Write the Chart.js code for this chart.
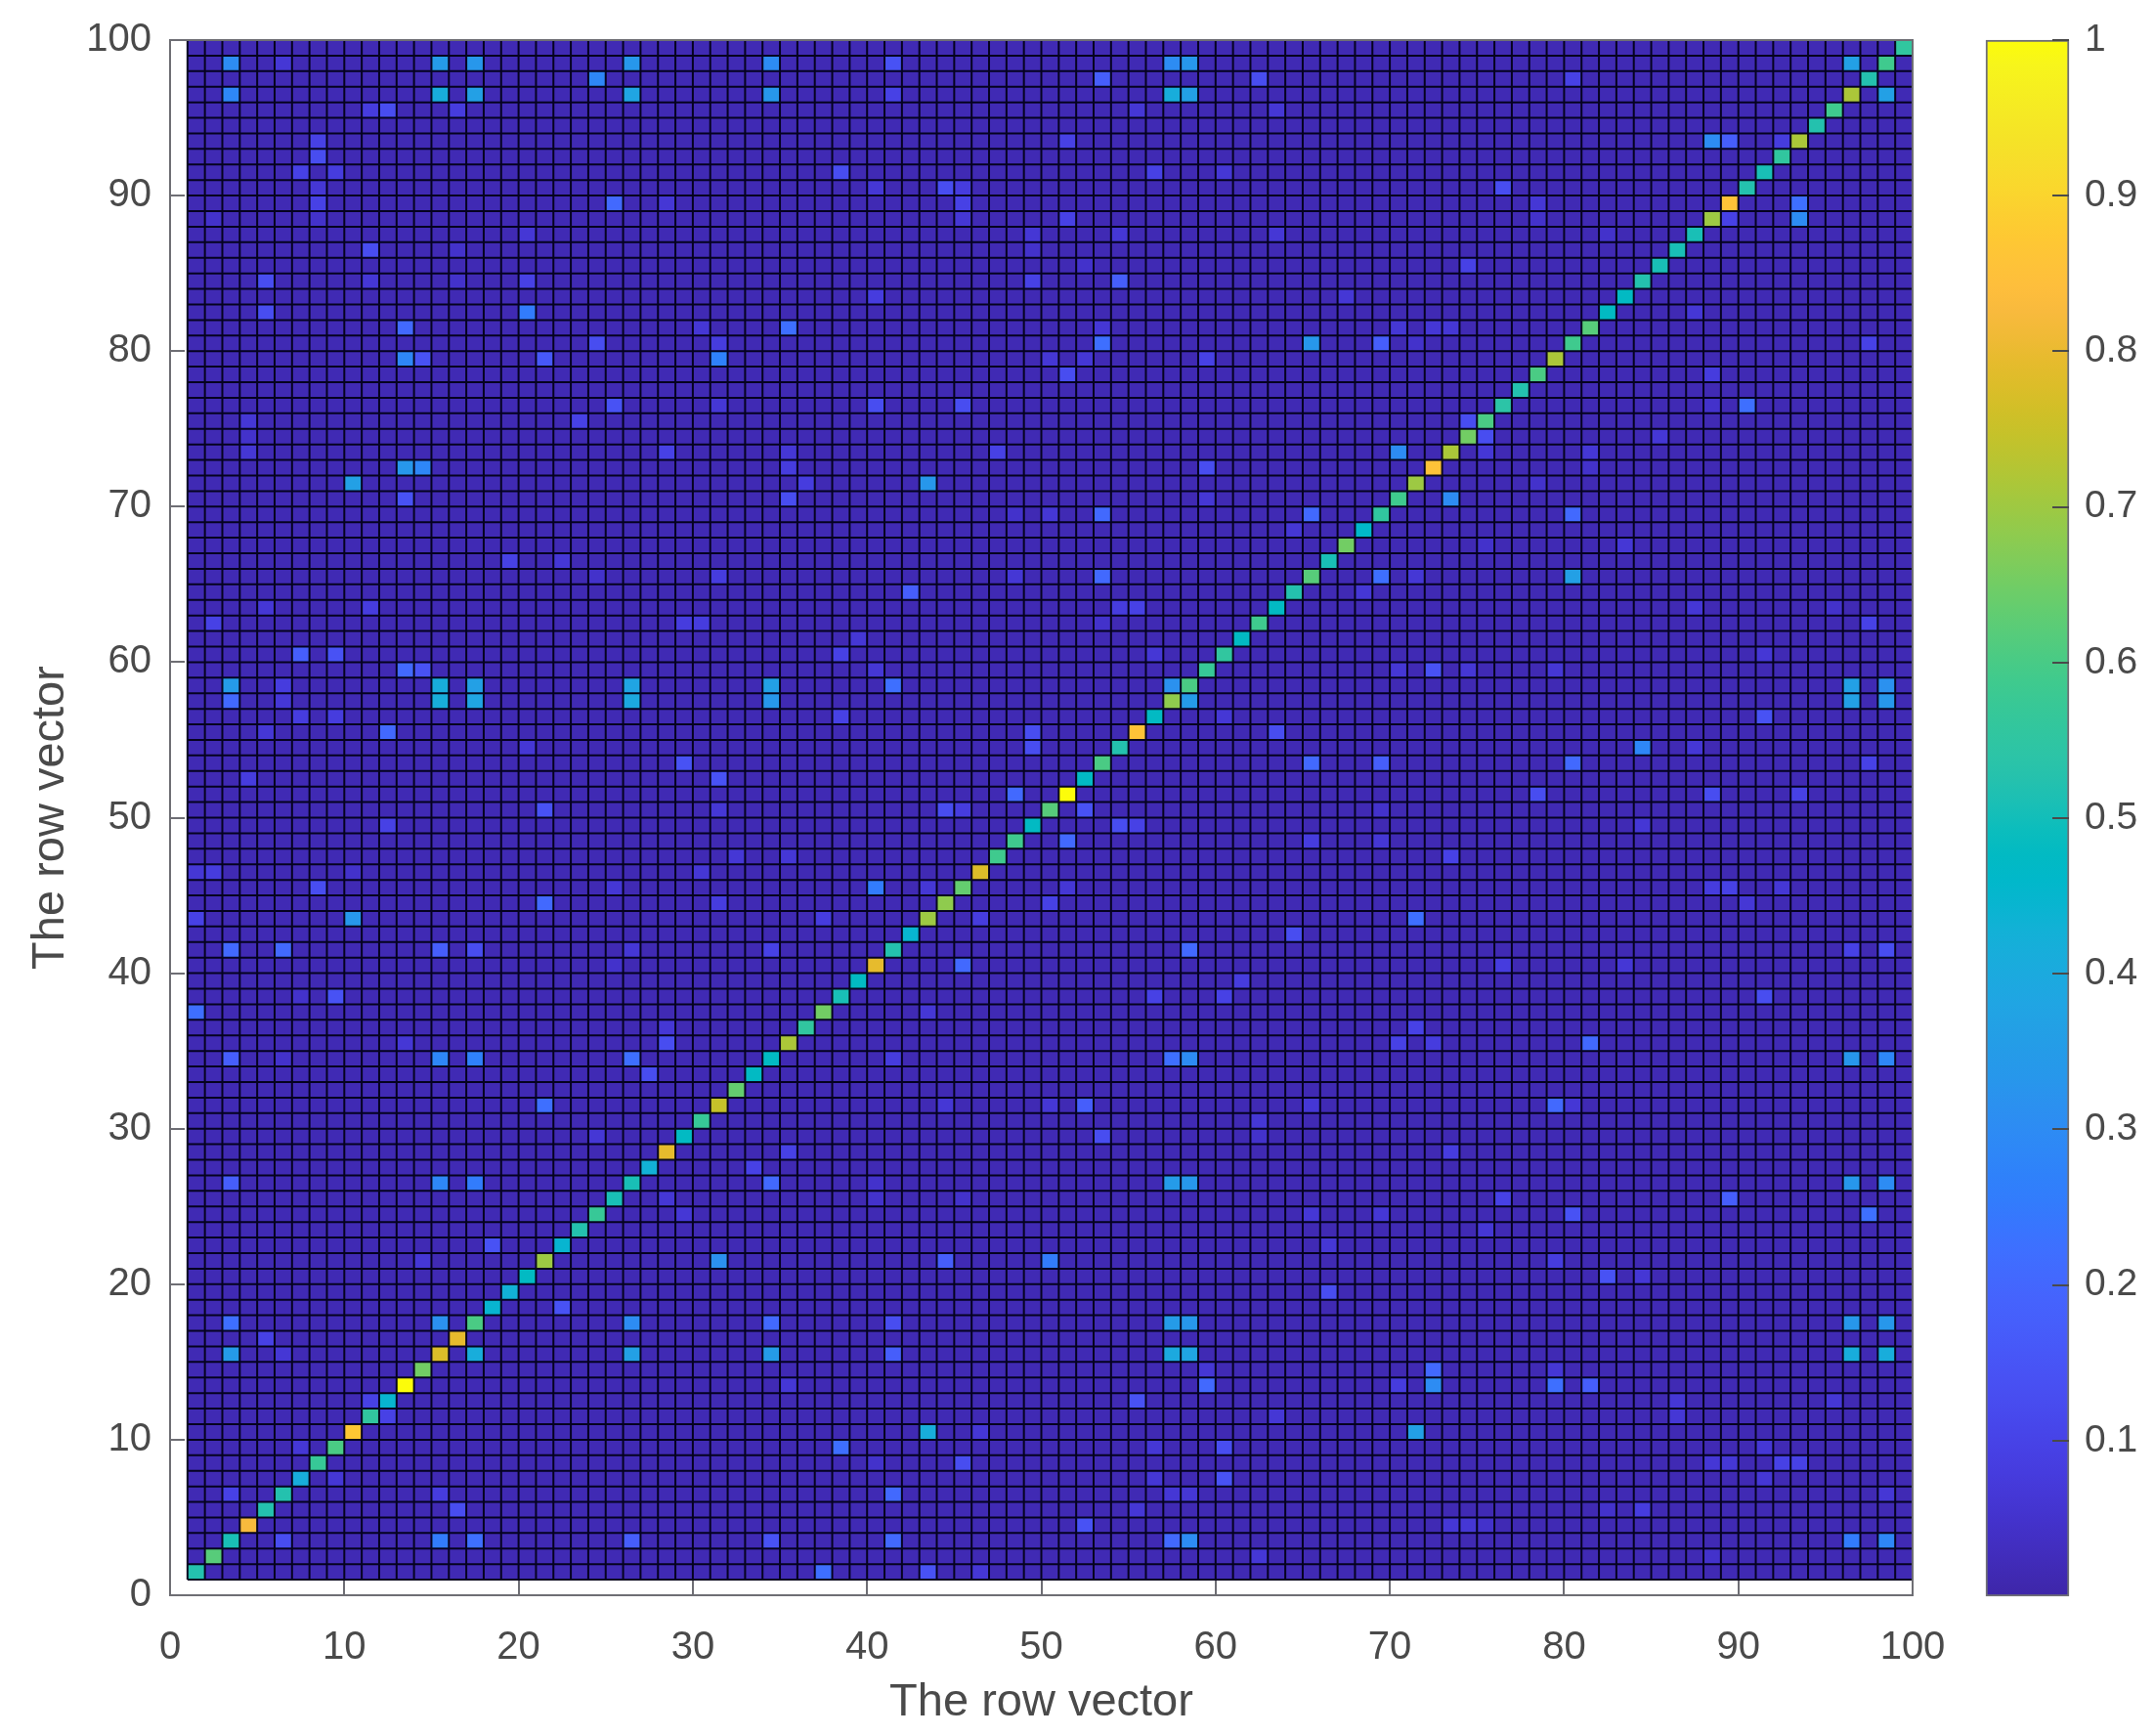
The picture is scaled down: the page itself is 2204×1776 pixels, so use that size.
<!DOCTYPE html>
<html>
<head>
<meta charset="utf-8">
<title>The row vector</title>
<script src="https://cdn.jsdelivr.net/npm/chart.js@4/dist/chart.umd.js"></script>
<style>
    html, body { margin: 0; padding: 0; background: #fff; }
    #wrap { position: relative; width: 2204px; height: 1776px; overflow: hidden; }
    canvas { position: absolute; top: 0; filter: blur(0.6px); }
    #matrixChart { left: 0; }
    #colorbarChart { left: 2022px; }
</style>
</head>
<body>
<div id="wrap">
    <canvas id="matrixChart" width="2204" height="1776"></canvas>
    <canvas id="colorbarChart" width="182" height="1776"></canvas>
</div>
<script>
// Axis text and ticks
const axisTitle = 'The row vector';
const axisTicks = [0, 10, 20, 30, 40, 50, 60, 70, 80, 90, 100];
const colorbarTicks = [0.1, 0.2, 0.3, 0.4, 0.5, 0.6, 0.7, 0.8, 0.9, 1];

// Columns and rows of the matrix (edges of the cells)
const gridEdges = [];
for (let i = 1; i <= 100; i++) gridEdges.push(i);

// Value of the cells that are not listed below
const backgroundValue = 0.012;

// Main diagonal, cell 1 to cell 99
const diagonalValues = [
    0.52, 0.62, 0.50, 0.82, 0.52, 0.53, 0.42, 0.57, 0.60, 0.87,
    0.55, 0.45, 1.00, 0.65, 0.77, 0.80, 0.60, 0.45, 0.43, 0.47,
    0.70, 0.45, 0.52, 0.57, 0.50, 0.50, 0.43, 0.80, 0.48, 0.57,
    0.74, 0.63, 0.47, 0.48, 0.72, 0.56, 0.65, 0.50, 0.48, 0.80,
    0.52, 0.45, 0.70, 0.68, 0.63, 0.78, 0.58, 0.58, 0.47, 0.62,
    1.00, 0.47, 0.60, 0.52, 0.85, 0.48, 0.68, 0.60, 0.57, 0.56,
    0.48, 0.58, 0.47, 0.53, 0.62, 0.50, 0.65, 0.46, 0.55, 0.58,
    0.70, 0.86, 0.72, 0.65, 0.60, 0.54, 0.52, 0.60, 0.72, 0.58,
    0.62, 0.47, 0.48, 0.53, 0.50, 0.50, 0.50, 0.70, 0.85, 0.52,
    0.50, 0.55, 0.72, 0.53, 0.58, 0.72, 0.52, 0.58, 0.55
];

// Off diagonal cells: [column, row, value]
const upperLeftCells = [
    [3,98,.3],[6,98,.06],[15,98,.35],[17,98,.33],[26,98,.33],[34,98,.3],[41,98,.15],
    [24,97,.28],
    [3,96,.28],[15,96,.42],[17,96,.37],[26,96,.38],[34,96,.33],[41,96,.1],
    [11,95,.08],[12,95,.12],[16,95,.08],
    [8,93,.1],[8,92,.13],[7,91,.09],[9,91,.08],[38,91,.12],
    [8,90,.06],[40,90,.06],[44,90,.12],[45,90,.08],
    [8,89,.1],[25,89,.2],[28,89,.06],[45,89,.1],
    [2,88,.05],[8,88,.05],[45,88,.07],
    [20,87,.06],[49,87,.07],[11,86,.12],[16,86,.05],[49,86,.05],
    [5,84,.12],[11,84,.06],[16,84,.05],[20,84,.1],[49,84,.1],
    [40,83,.08],[5,82,.12],[20,82,.25],
    [13,81,.2],[30,81,.06],[35,81,.22],[24,80,.13],[31,80,.08],
    [13,79,.28],[14,79,.15],[21,79,.16],[31,79,.27],
    [25,76,.14],[31,76,.07],[40,76,.12],[45,76,.12],
    [4,75,.06],[23,75,.1],[4,74,.05],
    [4,73,.06],[28,73,.1],[35,73,.06],[47,73,.1],
    [13,72,.33],[14,72,.28],[35,72,.08],
    [10,71,.37],[36,71,.08],[43,71,.33],
    [13,70,.15],[35,70,.12],[48,69,.05],
    [19,66,.1],[22,66,.06],[24,65,.05],[31,65,.08],[48,65,.06],
    [42,64,.18],[5,63,.07],[11,63,.08],
    [2,62,.1],[29,62,.08],[30,62,.08],[39,61,.06],
    [7,60,.17],[9,60,.15],[38,60,.1],
    [13,59,.2],[14,59,.15],[40,59,.06],
    [3,58,.35],[6,58,.08],[15,58,.42],[17,58,.36],[26,58,.38],[34,58,.37],[41,58,.22],
    [3,57,.2],[6,57,.06],[15,57,.42],[17,57,.38],[26,57,.4],[34,57,.33],
    [7,56,.08],[9,56,.08],[38,56,.1],
    [5,55,.07],[12,55,.2],[49,55,.13],
    [20,54,.07],[49,54,.12],[29,53,.15],
    [4,52,.08],[31,52,.15],[48,51,.2],
    [21,50,.14],[31,50,.07],[44,50,.12],[45,50,.08]
];
const upperRightCells = [
    [57,98,.3],[58,98,.33],[96,98,.37],
    [53,97,.18],[62,97,.13],[80,97,.1],
    [57,96,.42],[58,96,.37],[98,96,.37],
    [55,95,.06],[63,95,.07],
    [51,93,.1],[88,93,.3],[89,93,.18],[92,93,.08],
    [56,91,.1],[60,91,.06],[76,90,.12],
    [78,89,.06],[93,89,.22],
    [51,88,.09],[78,88,.05],[89,88,.1],[93,88,.3],
    [54,87,.06],[63,87,.07],[82,87,.05],
    [52,85,.05],[74,85,.1],[54,84,.18],[67,83,.06],[87,82,.07],
    [53,81,.06],[70,81,.06],[72,81,.07],[73,81,.07],
    [53,80,.22],[65,80,.33],[69,80,.17],[71,80,.05],[97,80,.1],
    [50,79,.07],[52,79,.06],[59,79,.09],
    [51,78,.12],[88,78,.08],[88,76,.05],[90,76,.22],
    [74,75,.12],[75,74,.12],[85,74,.07],
    [70,73,.3],[75,73,.06],[81,73,.07],
    [59,72,.12],[81,72,.05],[78,71,.05],
    [59,70,.06],[73,70,.3],
    [50,69,.06],[53,69,.2],[65,69,.2],[80,69,.2],
    [64,68,.06],[75,67,.05],[83,67,.06],
    [53,65,.2],[69,65,.22],[71,65,.06],[80,65,.36],
    [68,64,.07],[54,63,.08],[55,63,.1],[87,63,.06],[95,63,.05],
    [53,62,.05],[97,62,.1],[56,60,.07],[91,60,.07],
    [70,59,.07],[72,59,.14],[74,59,.06],[79,59,.06],
    [57,58,.32],[96,58,.37],[98,58,.32],
    [58,57,.35],[96,57,.36],[98,57,.33],
    [60,56,.06],[91,56,.15],[63,55,.12],
    [84,54,.28],[87,54,.06],
    [65,53,.2],[69,53,.17],[80,53,.2],[97,53,.1],
    [78,51,.12],[88,51,.12],[93,51,.1],
    [52,50,.14],[69,50,.05]
];
const lowerLeftCells = [
    [12,49,.1],[32,47,.06],[35,47,.06],
    [1,46,.06],[2,46,.08],[10,46,.05],[30,46,.07],
    [8,45,.12],[25,45,.06],[40,45,.25],[43,45,.07],
    [21,44,.2],[31,44,.08],
    [1,43,.1],[10,43,.33],[37,43,.08],[46,43,.08],
    [3,41,.2],[6,41,.2],[15,41,.17],[17,41,.13],[26,41,.07],[34,41,.1],
    [25,40,.05],[45,40,.2],[7,38,.05],[9,38,.15],
    [1,37,.22],[43,37,.07],[28,36,.06],[13,35,.07],[28,35,.12],
    [3,34,.18],[6,34,.05],[15,34,.28],[17,34,.27],[26,34,.22],[41,34,.08],
    [27,33,.12],[21,31,.22],[44,31,.06],[24,29,.06],
    [35,28,.1],[33,27,.1],
    [3,26,.18],[15,26,.28],[17,26,.26],[34,26,.2],[40,26,.05],
    [28,25,.06],[40,25,.05],[45,25,.05],[29,24,.07],
    [18,22,.15],[14,21,.07],[31,21,.32],[44,21,.18],[22,18,.15],
    [3,17,.22],[15,17,.32],[26,17,.3],[34,17,.2],[41,17,.12],
    [5,16,.1],
    [3,15,.35],[6,15,.07],[17,15,.42],[26,15,.37],[34,15,.35],[41,15,.18],
    [35,13,.06],[11,12,.1],[12,11,.1],
    [43,10,.42],[46,10,.07],[7,9,.06],[38,9,.22],
    [40,8,.05],[45,8,.12],[9,7,.07],
    [3,6,.1],[15,6,.08],[41,6,.2],[16,5,.12],
    [6,3,.13],[15,3,.25],[17,3,.22],[26,3,.17],[34,3,.14],[41,3,.2],
    [37,1,.22],[43,1,.14],[46,1,.07]
];
const lowerRightCells = [
    [54,49,.12],[55,49,.1],[84,49,.07],
    [51,48,.2],[65,48,.08],[69,48,.06],[73,47,.1],
    [51,45,.06],[88,45,.08],[89,45,.1],[92,45,.06],
    [50,44,.1],[90,44,.07],[71,43,.22],[64,42,.13],
    [58,41,.2],[96,41,.1],[98,41,.12],
    [76,40,.08],[83,40,.06],[61,39,.08],
    [56,38,.1],[60,38,.09],[91,38,.13],
    [71,36,.1],[70,35,.1],[72,35,.08],[81,35,.2],
    [57,34,.22],[58,34,.3],[96,34,.33],[98,34,.28],
    [50,31,.06],[52,31,.18],[65,31,.06],[79,31,.2],[80,31,.07],
    [62,30,.07],[53,29,.13],[62,29,.05],[73,28,.08],
    [57,26,.35],[58,26,.33],[96,26,.33],[98,26,.3],
    [76,25,.1],[89,25,.18],
    [65,24,.06],[69,24,.06],[80,24,.14],[97,24,.22],
    [75,23,.07],[66,22,.06],[50,21,.25],[79,21,.08],
    [82,20,.14],[84,20,.07],[66,19,.12],
    [57,17,.35],[58,17,.33],[96,17,.34],[98,17,.33],
    [57,15,.4],[58,15,.38],[96,15,.42],[98,15,.42],
    [59,14,.07],[72,14,.2],[79,14,.07],
    [59,13,.2],[70,13,.08],[72,13,.3],[79,13,.23],[81,13,.17],
    [55,12,.14],[86,12,.06],[95,12,.07],[63,11,.06],[86,11,.06],
    [71,10,.37],[56,9,.06],[60,9,.12],[91,9,.07],
    [88,8,.07],[89,8,.07],[92,8,.1],[93,8,.1],
    [56,7,.06],[60,7,.15],[91,7,.06],
    [57,6,.06],[58,6,.06],[98,6,.06],
    [55,5,.06],[82,5,.05],[84,5,.08],
    [52,4,.14],[73,4,.06],[74,4,.06],[75,4,.05],
    [57,3,.2],[58,3,.3],[96,3,.25],[98,3,.28],
    [62,2,.07],[88,2,.05]
];

// parula colormap, 64 steps
const parula = [
    [.2422,.1504,.6603],[.2504,.1650,.7076],[.2578,.1818,.7511],[.2647,.1978,.7952],
    [.2706,.2147,.8364],[.2751,.2342,.8710],[.2783,.2559,.8991],[.2803,.2782,.9221],
    [.2813,.3006,.9414],[.2810,.3228,.9579],[.2795,.3447,.9717],[.2760,.3667,.9829],
    [.2699,.3892,.9906],[.2602,.4123,.9952],[.2440,.4358,.9988],[.2206,.4603,.9973],
    [.1963,.4847,.9892],[.1834,.5074,.9798],[.1786,.5289,.9682],[.1764,.5499,.9520],
    [.1687,.5703,.9359],[.1540,.5902,.9218],[.1460,.6091,.9079],[.1380,.6276,.8973],
    [.1248,.6459,.8883],[.1113,.6635,.8763],[.0952,.6798,.8598],[.0689,.6948,.8394],
    [.0297,.7082,.8163],[.0036,.7203,.7917],[.0067,.7312,.7660],[.0433,.7411,.7394],
    [.0964,.7500,.7120],[.1408,.7584,.6842],[.1717,.7670,.6554],[.1938,.7758,.6251],
    [.2161,.7843,.5923],[.2470,.7918,.5567],[.2906,.7973,.5188],[.3406,.8008,.4789],
    [.3909,.8029,.4354],[.4456,.8024,.3909],[.5044,.7993,.3480],[.5616,.7942,.3045],
    [.6174,.7876,.2612],[.6720,.7793,.2227],[.7242,.7698,.1910],[.7738,.7598,.1646],
    [.8203,.7498,.1535],[.8634,.7406,.1596],[.9035,.7330,.1774],[.9393,.7288,.2100],
    [.9728,.7298,.2394],[.9956,.7434,.2371],[.9970,.7659,.2199],[.9952,.7861,.1996],
    [.9892,.8134,.1885],[.9786,.8422,.1780],[.9676,.8666,.1697],[.9610,.8890,.1537],
    [.9597,.9135,.1423],[.9628,.9373,.1265],[.9691,.9606,.1064],[.9900,.9900,.0400]
];

function parulaColor(v) {
    const idx = Math.max(0, Math.min(63, Math.round(v * 63)));
    const c = parula[idx];
    return 'rgb(' + Math.round(c[0] * 255) + ',' + Math.round(c[1] * 255) + ',' + Math.round(c[2] * 255) + ')';
}

// Build the cell table
const listed = new Map();
[upperLeftCells, upperRightCells, lowerLeftCells, lowerRightCells].forEach(function (list) {
    list.forEach(function (c) { listed.set(c[0] + '_' + c[1], c[2]); });
});
diagonalValues.forEach(function (v, i) { listed.set((i + 1) + '_' + (i + 1), v); });

const cells = [];
for (let r = 1; r <= 99; r++) {
    for (let c = 1; c <= 99; c++) {
        const key = c + '_' + r;
        cells.push({ x: c + 0.5, y: r + 0.5, v: listed.has(key) ? listed.get(key) : backgroundValue });
    }
}

// Black lines of the cells, null breaks the line
const gridLines = [];
gridEdges.forEach(function (e) {
    gridLines.push({ x: e, y: 1 }, { x: e, y: 100 }, { x: e, y: null });
    gridLines.push({ x: 1, y: e }, { x: 100, y: e }, { x: 1, y: null });
});

// Cells are drawn as image points, one small image for each colour
const cellImages = {};
function cellImage(chart, v) {
    const color = parulaColor(v);
    if (!cellImages[color]) {
        const w = Math.ceil(chart.scales.x.getPixelForValue(1) - chart.scales.x.getPixelForValue(0));
        const h = Math.ceil(chart.scales.y.getPixelForValue(0) - chart.scales.y.getPixelForValue(1));
        if (!(w > 1 && h > 1)) return 'rect'; // scales not laid out yet
        const img = document.createElement('canvas');
        img.width = w;
        img.height = h;
        const g = img.getContext('2d');
        g.fillStyle = color;
        g.fillRect(0, 0, w, h);
        cellImages[color] = img;
    }
    return cellImages[color];
}

const textColor = '#4a4a4a';
const boxColor = '#6e6e74';
const fontFamily = '"Liberation Sans", Arial, sans-serif';

function pickTicks(list) {
    return function (scale) {
        scale.ticks = list.map(function (v) { return { value: v }; });
    };
}

// Fixed axis size, and no extra room for labels that stick out at the ends
function fixSize(prop, size) {
    return function (scale) {
        scale[prop] = size;
        scale.paddingTop = 0;
        scale.paddingBottom = 0;
        scale.paddingLeft = 0;
        scale.paddingRight = 0;
    };
}

new Chart(document.getElementById('matrixChart').getContext('2d'), {
    data: {
        datasets: [
            {
                type: 'scatter',
                data: gridLines,
                showLine: true,
                spanGaps: false,
                borderColor: 'rgba(2,0,24,0.95)',
                borderWidth: 2,
                pointRadius: 0,
                order: 1
            },
            {
                type: 'scatter',
                data: cells,
                pointRadius: 1,
                pointBorderWidth: 0,
                pointStyle: function (ctx) {
                    if (!ctx.raw) return 'rect';
                    return cellImage(ctx.chart, ctx.raw.v);
                },
                order: 2
            }
        ]
    },
    options: {
        responsive: false,
        animation: false,
        events: [],
        devicePixelRatio: 1,
        plugins: { legend: { display: false }, tooltip: { enabled: false } },
        scales: {
            x: {
                type: 'linear', position: 'bottom', min: 0, max: 100,
                afterBuildTicks: pickTicks(axisTicks),
                afterFit: fixSize('height', 144),
                grid: { drawOnChartArea: false, tickLength: -15, color: boxColor, lineWidth: 2, z: 1 },
                border: { color: boxColor, width: 2, z: 1 },
                ticks: { color: textColor, font: { family: fontFamily, size: 40 }, padding: 45, maxRotation: 0, autoSkip: false },
                title: { display: true, text: axisTitle, color: textColor, font: { family: fontFamily, size: 47 }, padding: { top: 0, bottom: 6 } }
            },
            y: {
                type: 'linear', position: 'left', min: 0, max: 100,
                afterBuildTicks: pickTicks(axisTicks),
                afterFit: fixSize('width', 174),
                grid: { drawOnChartArea: false, tickLength: -15, color: boxColor, lineWidth: 2, z: 1 },
                border: { color: boxColor, width: 2, z: 1 },
                ticks: { color: textColor, font: { family: fontFamily, size: 40 }, padding: 34, autoSkip: false },
                title: { display: true, text: axisTitle, color: textColor, font: { family: fontFamily, size: 47 }, padding: { top: 24, bottom: 0 } }
            },
            xTop: {
                type: 'linear', position: 'top', min: 0, max: 100,
                afterFit: fixSize('height', 41),
                grid: { drawOnChartArea: false, drawTicks: false },
                border: { color: boxColor, width: 2, z: 1 },
                ticks: { display: false }
            },
            yRight: {
                type: 'linear', position: 'right', min: 0, max: 100,
                afterFit: fixSize('width', 247),
                grid: { drawOnChartArea: false, drawTicks: false },
                border: { color: boxColor, width: 2, z: 1 },
                ticks: { display: false }
            }
        }
    }
});

// Colorbar
new Chart(document.getElementById('colorbarChart').getContext('2d'), {
    type: 'bar',
    data: {
        labels: ['colorbar'],
        datasets: [{
            data: [1],
            barPercentage: 1,
            categoryPercentage: 1,
            borderWidth: 2,
            borderColor: boxColor,
            borderSkipped: false,
            clip: false,
            backgroundColor: function (ctx) {
                const area = ctx.chart.chartArea;
                if (!area) return parulaColor(0.5);
                const gradient = ctx.chart.ctx.createLinearGradient(0, area.bottom, 0, area.top);
                parula.forEach(function (c, i) { gradient.addColorStop(i / 63, parulaColor(i / 63)); });
                return gradient;
            }
        }]
    },
    options: {
        responsive: false,
        animation: false,
        events: [],
        devicePixelRatio: 1,
        layout: { padding: { left: 10, top: 41, bottom: 143, right: 0 } },
        plugins: { legend: { display: false }, tooltip: { enabled: false } },
        scales: {
            x: { display: false },
            y: {
                position: 'right', min: 0, max: 1,
                afterBuildTicks: pickTicks(colorbarTicks),
                afterFit: fixSize('width', 87),
                grid: { drawOnChartArea: false, tickLength: -17, color: '#4a4a4a', lineWidth: 2, z: 1 },
                border: { display: false },
                ticks: {
                    color: textColor,
                    font: { family: fontFamily, size: 39 },
                    padding: 33,
                    autoSkip: false,
                    callback: function (v) { return String(v); }
                }
            }
        }
    }
});
</script>
</body>
</html>
